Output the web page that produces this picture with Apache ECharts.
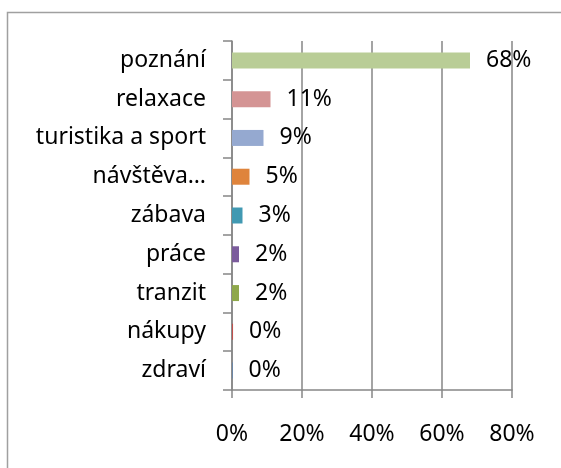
<!DOCTYPE html>
<html>
<head>
<meta charset="utf-8">
<script src="https://cdn.jsdelivr.net/npm/echarts@6/dist/echarts.min.js"></script>
<style>
html, body { margin: 0; padding: 0; background: #fff; }
#main { width: 561px; height: 468px; }
</style>
</head>
<body>
<div id="main"></div>
<script>
// kategorie (shora dolu)
var categories = ['poznání', 'relaxace', 'turistika a sport', 'návštěva…', 'zábava', 'práce', 'tranzit', 'nákupy', 'zdraví'];
// podíl v %
var values = [68, 11, 9, 5, 3, 2, 2, 0.3, 0.15];
var barColors = ['#B9CD96', '#D49494', '#95A9D0', '#DF843C', '#4199B2', '#7B5C9C', '#8FA84C', '#C0504D', '#4F81BD'];
var tickValues = [0, 20, 40, 60, 80];

var font = 'Noto Sans';
var chart = echarts.init(document.getElementById('main'));

var option = {
    animation: false,
    backgroundColor: '#fff',
    graphic: [{
        type: 'rect',
        shape: {x: 7.5, y: 12.5, width: 620, height: 520},
        style: {fill: 'none', stroke: '#A0A0A0', lineWidth: 1.5}
    }],
    grid: {
        left: 232,
        right: 49,
        top: 41,
        bottom: 78,
        containLabel: false
    },
    xAxis: {
        type: 'value',
        min: tickValues[0],
        max: tickValues[tickValues.length - 1],
        interval: 20,
        axisLine: {show: true, lineStyle: {color: '#868686', width: 1.5}},
        axisTick: {show: true, length: 8, lineStyle: {color: '#868686', width: 1.5}},
        splitLine: {show: true, lineStyle: {color: '#868686', width: 1.5}},
        axisLabel: {
            margin: 33,
            color: '#000',
            fontFamily: font,
            fontSize: 23,
            formatter: function (v) { return v + '%'; }
        }
    },
    yAxis: {
        type: 'category',
        inverse: true,
        data: categories,
        axisLine: {show: true, lineStyle: {color: '#868686', width: 1.5}},
        axisTick: {show: true, length: 9, lineStyle: {color: '#868686', width: 1.5}},
        axisLabel: {
            margin: 26,
            color: '#000',
            fontFamily: font,
            fontSize: 23
        }
    },
    series: [{
        type: 'bar',
        barWidth: 16,
        data: values.map(function (v, i) {
            return {value: v, itemStyle: {color: barColors[i]}};
        }),
        label: {
            show: true,
            position: 'right',
            distance: 16,
            color: '#000',
            fontFamily: font,
            fontSize: 23,
            formatter: function (p) { return Math.round(p.value) + '%'; }
        }
    }]
};

chart.setOption(option);
</script>
</body>
</html>
